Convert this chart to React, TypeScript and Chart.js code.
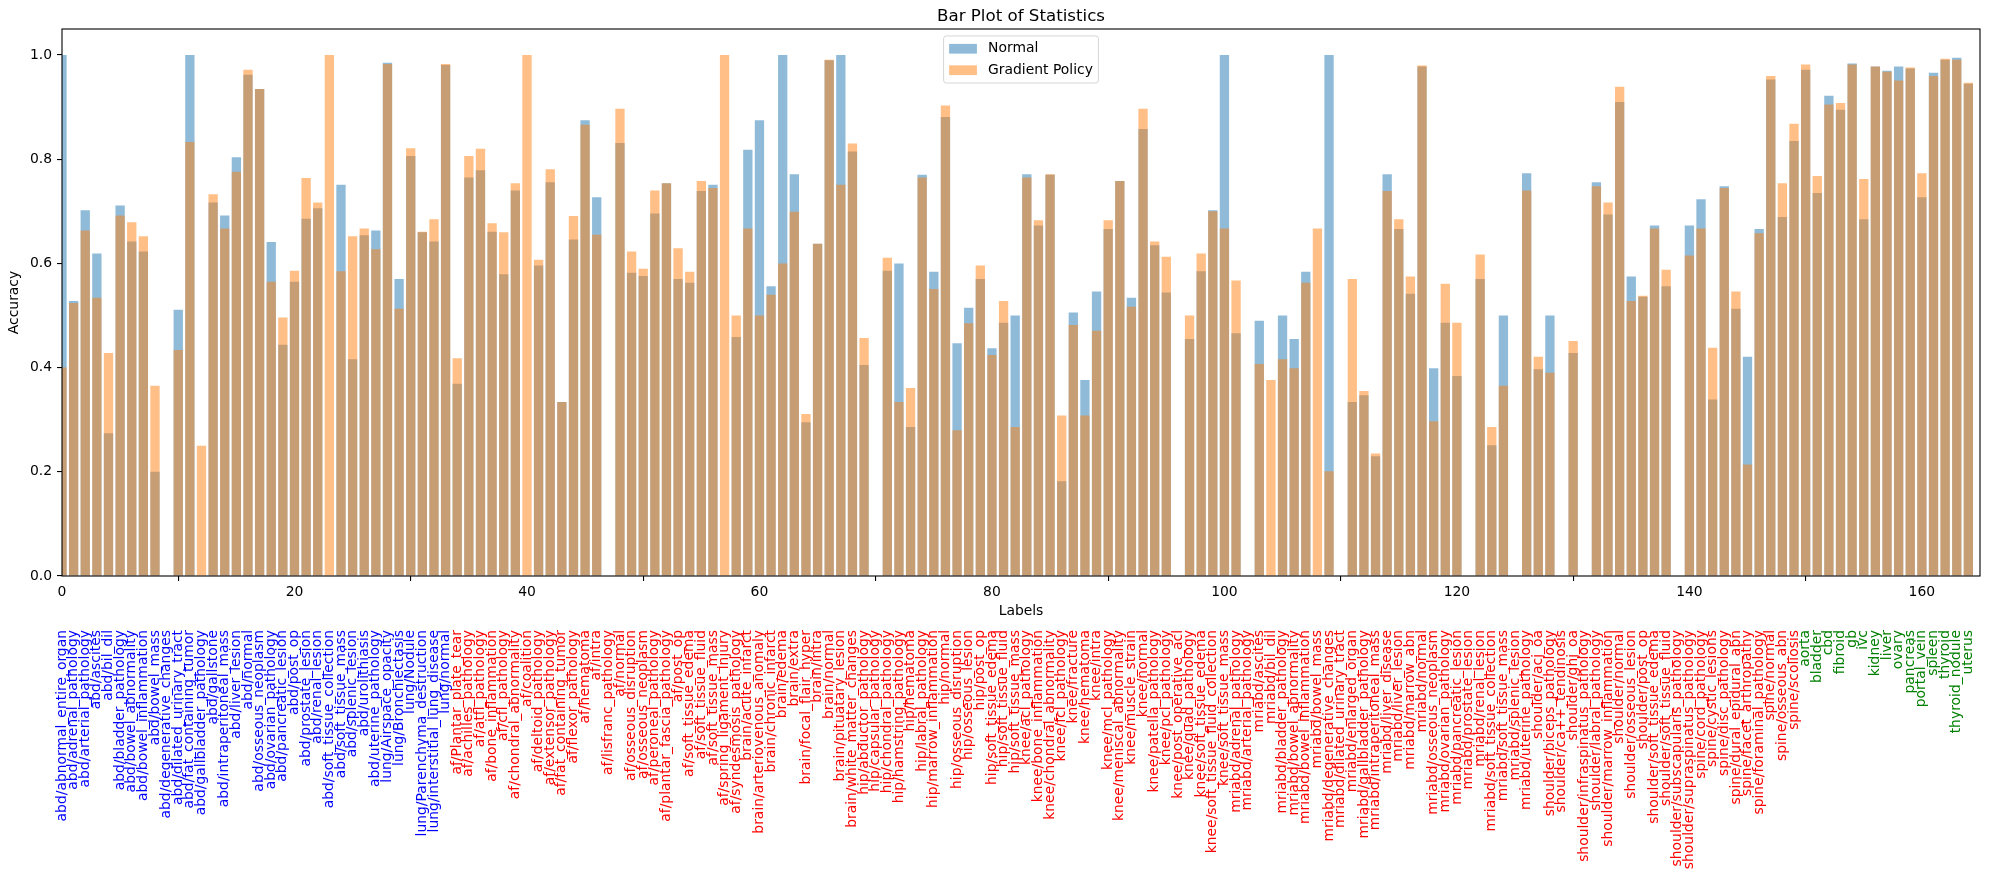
import React, { useEffect, useRef } from 'react';
import { Chart, registerables } from 'chart.js';

Chart.register(...registerables);

const FONT = '"DejaVu Sans", "Liberation Sans", sans-serif';
const FS = 13.9;

const categories: string[] = [
  'abd/abnormal_entire_organ', 'abd/adrenal_pathology', 'abd/arterial_pathology', 'abd/ascites', 'abd/bil_dil',
  'abd/bladder_pathology', 'abd/bowel_abnormality', 'abd/bowel_inflammation', 'abd/bowel_mass', 'abd/degenerative_changes',
  'abd/dilated_urinary_tract', 'abd/fat_containing_tumor', 'abd/gallbladder_pathology', 'abd/gallstone', 'abd/intraperitoneal_mass',
  'abd/liver_lesion', 'abd/normal', 'abd/osseous_neoplasm', 'abd/ovarian_pathology', 'abd/pancreatic_lesion',
  'abd/post_op', 'abd/prostate_lesion', 'abd/renal_lesion', 'abd/soft_tissue_collection', 'abd/soft_tissue_mass',
  'abd/splenic_lesion', 'abd/urolithiasis', 'abd/uterine_pathology', 'lung/Airspace_opacity', 'lung/Bronchiectasis',
  'lung/Nodule', 'lung/Parenchyma_destruction', 'lung/interstitial_lung_disease', 'lung/normal', 'af/Plantar_plate_tear',
  'af/achilles_pathology', 'af/atfl_pathology', 'af/bone_inflammation', 'af/cfl_pathology', 'af/chondral_abnormality',
  'af/coalition', 'af/deltoid_pathology', 'af/extensor_pathology', 'af/fat_containing_tumor', 'af/flexor_pathology',
  'af/hematoma', 'af/intra', 'af/lisfranc_pathology', 'af/normal', 'af/osseous_disruption',
  'af/osseous_neoplasm', 'af/peroneal_pathology', 'af/plantar_fascia_pathology', 'af/post_op', 'af/soft_tissue_edema',
  'af/soft_tissue_fluid', 'af/soft_tissue_mass', 'af/spring_ligament_injury', 'af/syndesmosis_pathology', 'brain/acute_infarct',
  'brain/arteriovenous_anomaly', 'brain/chronic_infarct', 'brain/edema', 'brain/extra', 'brain/focal_flair_hyper',
  'brain/intra', 'brain/normal', 'brain/pituatary_lesion', 'brain/white_matter_changes', 'hip/abductor_pathology',
  'hip/capsular_pathology', 'hip/chondral_pathology', 'hip/hamstring_pathology', 'hip/hematoma', 'hip/labral_pathology',
  'hip/marrow_inflammation', 'hip/normal', 'hip/osseous_disruption', 'hip/osseous_lesion', 'hip/post_op',
  'hip/soft_tissue_edema', 'hip/soft_tissue_fluid', 'hip/soft_tissue_mass', 'knee/acl_pathology', 'knee/bone_inflammation',
  'knee/chondral_abnormality', 'knee/fcl_pathology', 'knee/fracture', 'knee/hematoma', 'knee/intra',
  'knee/mcl_pathology', 'knee/meniscal_abnormality', 'knee/muscle_strain', 'knee/normal', 'knee/patella_pathology',
  'knee/pcl_pathology', 'knee/post_operative_acl', 'knee/quad_pathology', 'knee/soft_tissue_edema', 'knee/soft_tissue_fluid_collection',
  'knee/soft_tissue_mass', 'mriabd/adrenal_pathology', 'mriabd/arterial_pathology', 'mriabd/ascites', 'mriabd/bil_dil',
  'mriabd/bladder_pathology', 'mriabd/bowel_abnormality', 'mriabd/bowel_inflammation', 'mriabd/bowel_mass', 'mriabd/degenerative_changes',
  'mriabd/dilated_urinary_tract', 'mriabd/enlarged_organ', 'mriabd/gallbladder_pathology', 'mriabd/intraperitoneal_mass', 'mriabd/liver_disease',
  'mriabd/liver_lesion', 'mriabd/marrow_abn', 'mriabd/normal', 'mriabd/osseous_neoplasm', 'mriabd/ovarian_pathology',
  'mriabd/pancreatic_lesion', 'mriabd/prostate_lesion', 'mriabd/renal_lesion', 'mriabd/soft_tissue_collection', 'mriabd/soft_tissue_mass',
  'mriabd/splenic_lesion', 'mriabd/uterine_pathology', 'shoulder/acj_oa', 'shoulder/biceps_pathology', 'shoulder/ca++_tendinosis',
  'shoulder/ghj_oa', 'shoulder/infraspinatus_pathology', 'shoulder/labral_pathology', 'shoulder/marrow_inflammation', 'shoulder/normal',
  'shoulder/osseous_lesion', 'shoulder/post_op', 'shoulder/soft_tissue_edema', 'shoulder/soft_tissue_fluid', 'shoulder/subscapularis_pathology',
  'shoulder/supraspinatus_pathology', 'spine/cord_pathology', 'spine/cystic_lesions', 'spine/disc_pathology', 'spine/dural_epidural_abn',
  'spine/facet_arthropathy', 'spine/foraminal_pathology', 'spine/normal', 'spine/osseous_abn', 'spine/scoliosis',
  'aorta', 'bladder', 'cbd', 'fibroid', 'gb',
  'ivc', 'kidney', 'liver', 'ovary', 'pancreas',
  'portal_vein', 'spleen', 'thyroid', 'thyroid_nodule', 'uterus',
];

const normalAcc: number[] = [
  1.0, 0.528, 0.702, 0.619, 0.274, 0.711, 0.642, 0.623, 0.200, 0,
  0.511, 1.0, 0, 0.717, 0.692, 0.804, 0.962, 0.935, 0.641, 0.444,
  0.565, 0.686, 0.706, 0, 0.751, 0.416, 0.654, 0.663, 0.985, 0.570,
  0.806, 0.660, 0.642, 0.981, 0.369, 0.765, 0.779, 0.661, 0.579, 0.740,
  0, 0.596, 0.756, 0.334, 0.646, 0.875, 0.727, 0, 0.831, 0.582,
  0.576, 0.696, 0.754, 0.570, 0.563, 0.739, 0.751, 0, 0.459, 0.818,
  0.875, 0.556, 1.0, 0.771, 0.295, 0.638, 0.990, 1.0, 0.815, 0.405,
  0, 0.586, 0.600, 0.286, 0.770, 0.584, 0.881, 0.447, 0.515, 0.570,
  0.437, 0.486, 0.500, 0.771, 0.673, 0.770, 0.182, 0.506, 0.376, 0.546,
  0.666, 0.758, 0.534, 0.858, 0.635, 0.544, 0, 0.455, 0.585, 0.702,
  1.0, 0.466, 0, 0.490, 0, 0.500, 0.455, 0.584, 0, 1.0,
  0, 0.334, 0.347, 0.230, 0.771, 0.666, 0.542, 0.978, 0.399, 0.486,
  0.384, 0, 0.570, 0.251, 0.500, 0, 0.773, 0.397, 0.500, 0,
  0.428, 0, 0.756, 0.694, 0.910, 0.575, 0.536, 0.673, 0.556, 0,
  0.673, 0.723, 0.339, 0.748, 0.513, 0.421, 0.666, 0.953, 0.689, 0.835,
  0.972, 0.735, 0.922, 0.895, 0.984, 0.685, 0.978, 0.970, 0.978, 0.974,
  0.727, 0.966, 0.991, 0.995, 0.945,
];

const gradientAcc: number[] = [
  0.400, 0.524, 0.663, 0.534, 0.428, 0.692, 0.679, 0.652, 0.365, 0,
  0.434, 0.833, 0.250, 0.733, 0.667, 0.776, 0.972, 0.935, 0.565, 0.496,
  0.586, 0.764, 0.717, 1.0, 0.585, 0.652, 0.667, 0.627, 0.983, 0.513,
  0.821, 0.661, 0.685, 0.983, 0.418, 0.806, 0.820, 0.677, 0.660, 0.754,
  1.0, 0.607, 0.781, 0.334, 0.691, 0.866, 0.655, 0, 0.897, 0.623,
  0.590, 0.740, 0.754, 0.629, 0.584, 0.758, 0.745, 1.0, 0.500, 0.667,
  0.500, 0.540, 0.600, 0.699, 0.311, 0.638, 0.991, 0.751, 0.830, 0.457,
  0, 0.611, 0.334, 0.361, 0.765, 0.551, 0.903, 0.280, 0.485, 0.596,
  0.424, 0.528, 0.286, 0.765, 0.683, 0.771, 0.308, 0.482, 0.308, 0.471,
  0.683, 0.758, 0.517, 0.897, 0.642, 0.613, 0, 0.500, 0.619, 0.700,
  0.667, 0.567, 0, 0.407, 0.376, 0.416, 0.399, 0.563, 0.667, 0.201,
  0, 0.570, 0.355, 0.235, 0.739, 0.685, 0.575, 0.980, 0.297, 0.561,
  0.486, 0, 0.617, 0.286, 0.365, 0, 0.740, 0.421, 0.390, 0,
  0.451, 0, 0.748, 0.717, 0.939, 0.528, 0.538, 0.667, 0.588, 0,
  0.615, 0.667, 0.438, 0.745, 0.546, 0.214, 0.658, 0.960, 0.754, 0.868,
  0.982, 0.768, 0.905, 0.908, 0.982, 0.762, 0.978, 0.968, 0.951, 0.976,
  0.773, 0.960, 0.993, 0.991, 0.947,
];

const seriesNames = ['Normal', 'Gradient Policy'];
const seriesColors = ['rgba(31,119,180,0.5)', 'rgba(255,127,14,0.5)'];
const chartTitle = 'Bar Plot of Statistics';
const xTitle = 'Labels';
const yTitle = 'Accuracy';

function labelColor(l: string): string {
  if (!l.includes('/')) return '#008000';
  if (l.startsWith('abd/') || l.startsWith('lung/')) return '#0000ff';
  return '#ff0000';
}

const LABEL_TOP = 630;

const decor = {
  id: 'decor',
  afterDraw(chart: any) {
    const { ctx, chartArea: ca, scales } = chart;
    const xs = scales.x;
    ctx.save();
    // axes frame
    ctx.strokeStyle = '#000';
    ctx.lineWidth = 1.1;
    ctx.strokeRect(ca.left, ca.top, ca.right - ca.left, ca.bottom - ca.top);

    // title
    const cx = (ca.left + ca.right) / 2;
    ctx.fillStyle = '#000';
    ctx.font = `16.67px ${FONT}`;
    ctx.textAlign = 'center';
    ctx.textBaseline = 'alphabetic';
    ctx.fillText(chartTitle, cx, ca.top - 8.3);

    // legend
    ctx.font = `${FS}px ${FONT}`;
    const pad = 0.4 * FS;
    const handleW = 2 * FS;
    const handleH = 0.7 * FS;
    const textPad = 0.8 * FS;
    const rowH = 14.5;
    const rowGap = 0.5 * FS;
    const tw = Math.max(...seriesNames.map((n) => ctx.measureText(n).width));
    const w = pad + handleW + textPad + tw + pad;
    const h = pad * 2 + rowH * 2 + rowGap;
    const bx = cx - w / 2;
    const by = ca.top + 0.5 * FS;
    ctx.beginPath();
    if (ctx.roundRect) ctx.roundRect(bx, by, w, h, 0.2 * FS);
    else ctx.rect(bx, by, w, h);
    ctx.fillStyle = 'rgba(255,255,255,0.8)';
    ctx.fill();
    ctx.strokeStyle = 'rgba(204,204,204,0.8)';
    ctx.lineWidth = 1;
    ctx.stroke();
    seriesNames.forEach((n, r) => {
      const cy = by + pad + rowH / 2 + r * (rowH + rowGap);
      ctx.fillStyle = seriesColors[r];
      ctx.fillRect(bx + pad, cy - handleH / 2, handleW, handleH);
      ctx.fillStyle = '#000';
      ctx.textAlign = 'left';
      ctx.textBaseline = 'middle';
      ctx.fillText(n, bx + pad + handleW + textPad, cy);
    });

    // category labels
    ctx.font = `${FS}px ${FONT}`;
    categories.forEach((l, i) => {
      const x = xs.getPixelForValue(i);
      ctx.save();
      ctx.translate(x, LABEL_TOP);
      ctx.rotate(-Math.PI / 2);
      ctx.textAlign = 'right';
      ctx.textBaseline = 'middle';
      ctx.fillStyle = labelColor(l);
      ctx.fillText(l, 0, 0);
      ctx.restore();
    });
    ctx.restore();
  },
};

export default function App() {
  const ref = useRef<HTMLCanvasElement | null>(null);
  useEffect(() => {
    if (!ref.current) return;
    Chart.defaults.font.family = FONT;
    const tickFont = { size: FS, family: FONT };
    const grid = {
      drawOnChartArea: false,
      drawTicks: true,
      tickLength: 5,
      color: '#000',
      lineWidth: 1.1,
    };
    const chart = new Chart(ref.current, {
      type: 'bar',
      data: {
        datasets: [
          {
            label: seriesNames[0],
            data: categories.map((_, i) => ({ x: i, y: normalAcc[i] })),
            backgroundColor: seriesColors[0],
            borderWidth: 0,
            order: 1,
            grouped: false,
            barPercentage: 0.8,
            categoryPercentage: 1.0,
            clip: 0,
          } as any,
          {
            label: seriesNames[1],
            data: categories.map((_, i) => ({ x: i, y: gradientAcc[i] })),
            backgroundColor: seriesColors[1],
            borderWidth: 0,
            order: 0,
            grouped: false,
            barPercentage: 0.8,
            categoryPercentage: 1.0,
            clip: 0,
          } as any,
        ],
      },
      options: {
        animation: false,
        responsive: false,
        devicePixelRatio: 1,
        layout: { padding: { top: 29, left: 0, right: 10, bottom: 255 } },
        plugins: {
          legend: { display: false },
          title: { display: false },
          tooltip: { enabled: false },
        },
        scales: {
          x: {
            type: 'linear',
            min: 0,
            max: 165,
            offset: false,
            ticks: {
              stepSize: 20,
              includeBounds: false,
              color: '#000',
              font: tickFont,
              padding: 3,
              maxRotation: 0,
              autoSkip: false,
              callback: (v: any) => String(v),
            },
            grid,
            border: { display: false },
            title: {
              display: true,
              text: xTitle,
              color: '#000',
              font: tickFont,
              padding: { top: 0, bottom: 0 },
            },
            afterFit: (s: any) => {
              s.height = 44;
            },
          },
          y: {
            min: 0,
            max: 1.05,
            ticks: {
              stepSize: 0.2,
              includeBounds: false,
              color: '#000',
              font: tickFont,
              padding: 5,
              callback: (v: any) => Number(v).toFixed(1),
            },
            grid,
            border: { display: false },
            title: {
              display: true,
              text: yTitle,
              color: '#000',
              font: tickFont,
              padding: { top: 6.5, bottom: 0 },
            },
            afterFit: (s: any) => {
              s.width = 62;
            },
          },
        },
      } as any,
      plugins: [decor],
    });
    return () => chart.destroy();
  }, []);
  return (
    <div style={{ position: 'fixed', left: 0, top: 0, width: 1990, height: 875, background: '#fff' }}>
      <canvas ref={ref} width={1990} height={875} style={{ display: 'block', width: 1990, height: 875 }} />
    </div>
  );
}
